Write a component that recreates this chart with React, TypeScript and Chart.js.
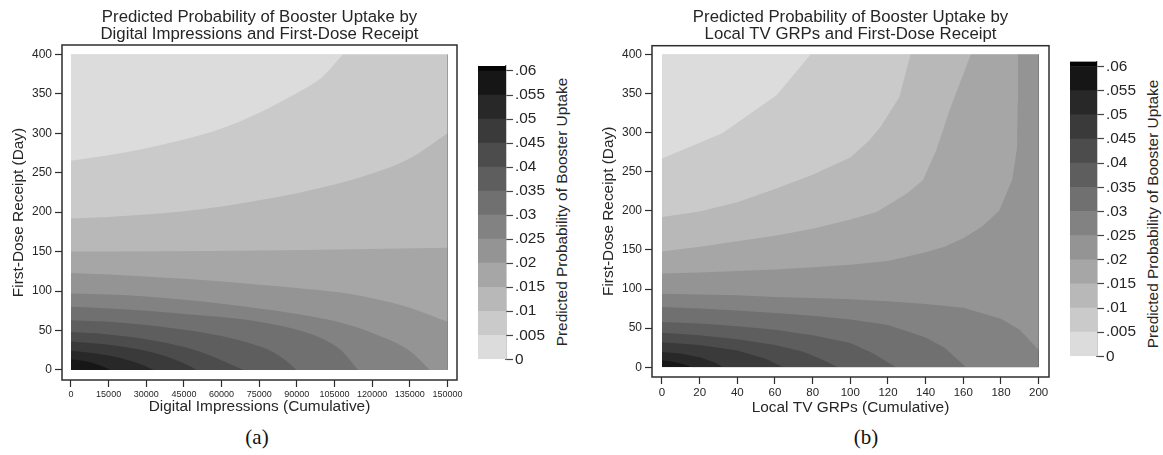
import React, { useEffect, useRef } from "react";
import { Chart, registerables } from "chart.js";

Chart.register(...registerables);

const FONT = "'Liberation Sans', Arial, Helvetica, sans-serif";
const TEXT = "#262626";
const LINE = "#2e2e2e";

// Grey of each probability band: 0-.005, .005-.01, ..., .055-.06, >.06
const BAND_COLORS = ["#dcdcdc", "#cacaca", "#b8b8b8", "#a6a6a6", "#949494", "#828282", "#707070", "#5e5e5e", "#4c4c4c", "#3a3a3a", "#282828", "#161616", "#040404"];

// Colour-bar scale
const LEVEL_TICKS = [0, 0.005, 0.01, 0.015, 0.02, 0.025, 0.03, 0.035, 0.04, 0.045, 0.05, 0.055, 0.06];
const LEVEL_LABELS = ["0", ".005", ".01", ".015", ".02", ".025", ".03", ".035", ".04", ".045", ".05", ".055", ".06"];
const BAND_WIDTHS = [0.005, 0.005, 0.005, 0.005, 0.005, 0.005, 0.005, 0.005, 0.005, 0.005, 0.005, 0.005, 0.00104];

// Axis ticks
const Y_TICKS = [0, 50, 100, 150, 200, 250, 300, 350, 400];
const A_X_TICKS = [0, 15000, 30000, 45000, 60000, 75000, 90000, 105000, 120000, 135000, 150000];
const B_X_TICKS = [0, 20, 40, 60, 80, 100, 120, 140, 160, 180, 200];

// Panel (a): contour lines [digital impressions, first-dose day] for each level
const A_C005 = [[0, 265], [15000, 272], [30000, 281], [45000, 292], [60000, 306], [75000, 326], [90000, 351], [100000, 371], [108500, 400], [118000, 430], [150000, 450]];
const A_C010 = [[0, 192], [15000, 194], [30000, 197], [45000, 201], [60000, 207], [75000, 215], [90000, 224], [105000, 235], [120000, 249], [135000, 268], [150000, 300]];
const A_C015 = [[0, 150], [37500, 150.5], [75000, 151.5], [112500, 153], [150000, 155]];
const A_C020 = [[0, 123], [15000, 121], [30000, 118.5], [45000, 115.5], [60000, 112], [75000, 108], [90000, 104], [105000, 99], [120000, 91], [135000, 79], [150000, 61]];
const A_C025 = [[0, 97], [15000, 95.5], [30000, 93], [45000, 89], [60000, 84], [75000, 78], [90000, 71], [105000, 62], [120000, 47], [135000, 24], [143000, 0], [147000, -12], [150000, -20]];
const A_C030 = [[0, 80], [15000, 78], [30000, 75], [45000, 71], [60000, 67], [75000, 61], [90000, 51], [100000, 40], [108000, 24], [114400, 0], [120000, -18], [150000, -40]];
const A_C035 = [[0, 63], [15000, 61], [30000, 57], [45000, 51], [60000, 43], [75000, 30], [82000, 20], [89900, 0], [95000, -18], [150000, -40]];
const A_C040 = [[0, 48], [15000, 45], [30000, 39], [45000, 29], [55000, 19], [63000, 8], [68700, 0], [73000, -10], [150000, -40]];
const A_C045 = [[0, 36], [15000, 32], [30000, 24], [40000, 15], [46000, 7], [50100, 0], [54000, -9], [150000, -40]];
const A_C050 = [[0, 24.5], [10000, 21], [20000, 15], [28000, 7], [32900, 0], [36000, -7], [150000, -40]];
const A_C055 = [[0, 13.5], [8000, 9.5], [13000, 4], [15600, 0], [18000, -5], [150000, -40]];

// Panel (b): contour lines [local TV GRPs, first-dose day] for each level
const B_C005 = [[0, 267], [32, 299], [61, 348], [79, 400], [200, 400]];
const B_C010 = [[0, 192], [20, 199], [40, 211], [60, 228], [80, 246], [100, 268], [110, 290], [116, 307], [126, 345], [132, 400], [200, 400]];
const B_C015 = [[0, 148], [20, 154], [40, 161], [60, 168], [80, 177], [100, 189], [114, 198.5], [130, 222], [138.5, 239], [145.6, 277], [152.6, 328], [158, 362], [164, 400], [200, 400]];
const B_C020 = [[0, 120], [20, 121], [40, 123], [60, 125], [80, 128], [100, 131], [120, 136], [140, 147], [150, 154], [160, 165], [170, 180], [179, 200], [186, 240], [188.5, 280], [188.9, 340], [189, 400], [200, 400]];
const B_C025 = [[0, 94], [20, 93], [40, 92], [60, 90], [80, 88.5], [100, 87], [120, 84.5], [140, 81], [160, 76], [180, 62], [190, 48], [200, 22]];
const B_C030 = [[0, 77], [20, 75], [40, 72.5], [60, 69.5], [80, 66], [100, 61], [120, 54], [140, 38], [150, 25], [161.5, 0], [200, 0]];
const B_C035 = [[0, 58], [20, 56], [40, 52.5], [60, 48], [80, 41], [100, 31], [112, 18], [124.3, 0], [200, 0]];
const B_C040 = [[0, 44], [20, 41], [40, 36], [60, 28.5], [75, 20], [85, 10], [93.4, 0], [200, 0]];
const B_C045 = [[0, 32], [20, 28.5], [40, 21.5], [55, 11], [64.2, 0], [200, 0]];
const B_C050 = [[0, 19.6], [10, 17.5], [20, 13], [28, 6], [32.4, 0], [200, 0]];
const B_C055 = [[0, 9], [6, 7], [12, 3.5], [16, 0], [200, 0]];

const A_CONTOURS = [A_C005, A_C010, A_C015, A_C020, A_C025, A_C030, A_C035, A_C040, A_C045, A_C050, A_C055];
const B_CONTOURS = [B_C005, B_C010, B_C015, B_C020, B_C025, B_C030, B_C035, B_C040, B_C045, B_C050, B_C055];

const framePlugin = {
  id: "frame",
  afterDatasetsDraw(chart: any) {
    const { ctx, chartArea: a } = chart;
    ctx.save();
    ctx.strokeStyle = LINE;
    ctx.lineWidth = 1.5;
    ctx.strokeRect(a.left, a.top, a.right - a.left, a.bottom - a.top);
    ctx.restore();
  },
};

type PanelProps = {
  left: number;
  width: number;
  height: number;
  title: string[];
  xTitle: string;
  xMin: number;
  xMax: number;
  xEnd: number;
  yMin: number;
  yMax: number;
  xTicks: number[];
  xTickFont: number;
  contours: number[][][];
  smooth: boolean;
  yAxisWidth: number;
  xAxisHeight: number;
  padRight: number;
  titlePadTop: number;
  titlePadBottom: number;
  xTitlePadBottom: number;
};

function ContourPanel(p: PanelProps) {
  const ref = useRef<HTMLCanvasElement | null>(null);
  useEffect(() => {
    if (!ref.current) return;
    const line = (pts: number[][]) => pts.map(([x, y]) => ({ x, y }));
    const common = {
      borderWidth: 0,
      pointRadius: 0,
      pointHoverRadius: 0,
      tension: 0,
    };
    const datasets: any[] = [];
    // white masks for the margin between data region and frame
    datasets.push({ ...common, data: line([[p.xMin, 0], [p.xMax, 0]]), fill: { value: p.yMin - 30 }, backgroundColor: "#ffffff" });
    datasets.push({ ...common, data: line([[p.xMin, 400], [p.xMax, 400]]), fill: { value: p.yMax + 30 }, backgroundColor: "#ffffff" });
    p.contours.forEach((c, i) => {
      datasets.push({
        ...common,
        data: line(c),
        fill: { value: 400 },
        backgroundColor: BAND_COLORS[i],
        cubicInterpolationMode: p.smooth ? "monotone" : "default",
      });
    });
    datasets.push({ ...common, data: line([[0, 0], [p.xEnd, 0]]), fill: { value: 400 }, backgroundColor: BAND_COLORS[p.contours.length] });

    const chart = new Chart(ref.current, {
      type: "line",
      data: { datasets },
      plugins: [framePlugin],
      options: {
        animation: false,
        responsive: false,
        events: [],
        layout: { padding: { left: 0, right: p.padRight, top: 0, bottom: 0 } },
        plugins: {
          legend: { display: false },
          tooltip: { enabled: false },
          title: {
            display: true,
            text: p.title,
            color: TEXT,
            fullSize: false,
            font: { family: FONT, size: 16.8, weight: "normal", lineHeight: 1.02 },
            padding: { top: p.titlePadTop, bottom: p.titlePadBottom },
          },
        },
        scales: {
          x: {
            type: "linear",
            min: p.xMin,
            max: p.xMax,
            afterBuildTicks: (s: any) => {
              s.ticks = p.xTicks.map((v) => ({ value: v }));
            },
            afterFit: (s: any) => {
              s.height = p.xAxisHeight;
            },
            ticks: {
              color: TEXT,
              font: { family: FONT, size: p.xTickFont },
              maxRotation: 0,
              minRotation: 0,
              autoSkip: false,
              padding: 2,
              callback: (v: any) => String(v),
            },
            grid: { drawOnChartArea: false, drawTicks: true, tickLength: 7, color: LINE, tickWidth: 1.2 },
            border: { display: false },
            title: {
              display: true,
              text: p.xTitle,
              color: TEXT,
              font: { family: FONT, size: 15.4 },
              padding: { top: 0, bottom: p.xTitlePadBottom },
            },
          },
          y: {
            type: "linear",
            min: p.yMin,
            max: p.yMax,
            afterBuildTicks: (s: any) => {
              s.ticks = Y_TICKS.map((v) => ({ value: v }));
            },
            afterFit: (s: any) => {
              s.width = p.yAxisWidth;
            },
            ticks: {
              color: TEXT,
              font: { family: FONT, size: 12 },
              padding: 3,
              autoSkip: false,
              callback: (v: any) => String(v),
            },
            grid: { drawOnChartArea: false, drawTicks: true, tickLength: 7, color: LINE, tickWidth: 1.2 },
            border: { display: false },
            title: {
              display: true,
              text: "First-Dose Receipt (Day)",
              color: TEXT,
              font: { family: FONT, size: 15.4 },
              padding: { top: 9.3, bottom: 0 },
            },
          },
        },
      } as any,
    });
    return () => chart.destroy();
  }, []);
  return (
    <canvas
      ref={ref}
      width={p.width}
      height={p.height}
      style={{ position: "absolute", left: p.left, top: 0, width: p.width, height: p.height }}
    />
  );
}

type BarProps = { left: number; padTop: number; padBottom: number; axisWidth: number };

function ColorBar(p: BarProps) {
  const ref = useRef<HTMLCanvasElement | null>(null);
  useEffect(() => {
    if (!ref.current) return;
    const chart = new Chart(ref.current, {
      type: "bar",
      data: {
        labels: [""],
        datasets: BAND_WIDTHS.map((w, i) => ({
          data: [w],
          backgroundColor: BAND_COLORS[i],
          borderWidth: 0,
          barPercentage: 1,
          categoryPercentage: 1,
          stack: "bar",
        })),
      },
      options: {
        animation: false,
        responsive: false,
        events: [],
        layout: { padding: { left: 8, right: 0, top: p.padTop, bottom: p.padBottom } },
        plugins: { legend: { display: false }, tooltip: { enabled: false }, title: { display: false } },
        scales: {
          x: { display: false, stacked: true },
          y: {
            position: "right",
            stacked: true,
            min: 0,
            max: 0.06104,
            afterBuildTicks: (s: any) => {
              s.ticks = LEVEL_TICKS.map((v) => ({ value: v }));
            },
            afterFit: (s: any) => {
              s.width = p.axisWidth;
            },
            ticks: {
              color: TEXT,
              font: { family: FONT, size: 15.4 },
              padding: 2,
              autoSkip: false,
              callback: (_v: any, i: number) => LEVEL_LABELS[i],
            },
            grid: { drawOnChartArea: false, drawTicks: true, tickLength: 7, color: "#444444", tickWidth: 1.2 },
            border: { display: true, color: "#555555", width: 1.3 },
          },
        },
      } as any,
    });
    return () => chart.destroy();
  }, []);
  return (
    <canvas
      ref={ref}
      width={80}
      height={400}
      style={{ position: "absolute", left: p.left, top: 0, width: 80, height: 400 }}
    />
  );
}

const rotated = (x: number, y: number, text: string) => (
  <div
    style={{
      position: "absolute",
      left: x,
      top: y,
      transform: "translate(-50%, -50%) rotate(-90deg)",
      whiteSpace: "nowrap",
      fontFamily: FONT,
      fontSize: 15.4,
      color: TEXT,
      lineHeight: 1,
    }}
  >
    {text}
  </div>
);

const caption = (x: number, text: string) => (
  <div
    style={{
      position: "absolute",
      left: x,
      top: 437,
      transform: "translate(-50%, -50%)",
      fontFamily: "'Liberation Serif', 'Times New Roman', serif",
      fontSize: 21,
      color: "#111111",
      lineHeight: 1,
    }}
  >
    {text}
  </div>
);

export default function App() {
  return (
    <div style={{ position: "absolute", left: 0, top: 0, width: 1163, height: 455, background: "#ffffff", overflow: "hidden" }}>
      <ContourPanel
        left={0}
        width={470}
        height={420}
        title={["Predicted Probability of Booster Uptake by", "Digital Impressions and First-Dose Receipt"]}
        xTitle="Digital Impressions (Cumulative)"
        xMin={-3580}
        xMax={153820}
        xEnd={150000}
        yMin={-12.7}
        yMax={411.8}
        xTicks={A_X_TICKS}
        xTickFont={9}
        contours={A_CONTOURS}
        smooth={true}
        yAxisWidth={62}
        xAxisHeight={40}
        padRight={13}
        titlePadTop={8.7}
        titlePadBottom={2.03}
        xTitlePadBottom={3.76}
      />
      <ColorBar left={470} padTop={66} padBottom={40.7} axisWidth={44} />
      {rotated(561.5, 212, "Predicted Probability of Booster Uptake")}
      <ContourPanel
        left={590}
        width={470}
        height={420}
        title={["Predicted Probability of Booster Uptake by", "Local TV GRPs and First-Dose Receipt"]}
        xTitle="Local TV GRPs (Cumulative)"
        xMin={-5.3}
        xMax={205.5}
        xEnd={200}
        yMin={-12.4}
        yMax={411}
        xTicks={B_X_TICKS}
        xTickFont={11.5}
        contours={B_CONTOURS}
        smooth={false}
        yAxisWidth={62}
        xAxisHeight={43}
        padRight={11}
        titlePadTop={8.7}
        titlePadBottom={2.73}
        xTitlePadBottom={3.06}
      />
      <ColorBar left={1062} padTop={61.5} padBottom={43.7} axisWidth={45} />
      {rotated(1152.5, 214, "Predicted Probability of Booster Uptake")}
      {caption(257, "(a)")}
      {caption(866, "(b)")}
    </div>
  );
}
